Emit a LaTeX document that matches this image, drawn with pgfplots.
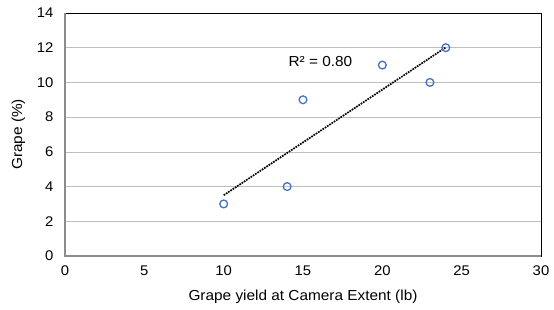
\documentclass[border=0pt]{standalone}
\usepackage{pgfplots}
\pgfplotsset{compat=1.18}
\usepackage{fontspec}
\setmainfont[FakeStretch=1.06]{Liberation Sans}
\definecolor{mblue}{HTML}{4472C4}
\definecolor{grid}{HTML}{E0E0E0}
\definecolor{axgray}{HTML}{8C8C8C}
\begin{document}
\begin{tikzpicture}
\path[use as bounding box] (0,0) rectangle (554pt,310pt);
\begin{axis}[
  anchor=south west, at={(65pt,54pt)},
  scale only axis, width=476pt, height=243pt,
  xmin=0, xmax=30, ymin=0, ymax=14,
  xtick={0,5,...,30}, ytick={0,2,...,14},
  major tick length=0pt,
  xmajorgrids=false, ymajorgrids=true,
  grid style={grid, line width=0.7pt},
  axis line style={black, line width=0.9pt},
  tick label style={font=\fontsize{14}{16}\selectfont},
  label style={font=\fontsize{14.5}{16}\selectfont},
  /pgf/number format/assume math mode=true,
  xticklabel style={yshift=-6pt},
  yticklabel style={xshift=-8pt},
  xlabel={Grape yield at Camera Extent (lb)},
  ylabel={Grape (\%)},
  xlabel style={yshift=-8pt},
  ylabel style={yshift=5pt},
  clip=false,
]
\addplot[black, densely dotted, line width=1.7pt] coordinates {(10,3.50) (24,12.02)};
\addplot[only marks, mark=o, mark size=3.9pt, mark options={mblue, line width=1.3pt}] coordinates {
(10,3) (14,4) (15,9) (20,11) (23,10) (24,12)};
\node[font=\fontsize{14.5}{16}\selectfont] at (axis cs:16.1,11.2) {R² = 0.80};
\draw[axgray, line width=1.6pt] (rel axis cs:0,1) -- (rel axis cs:0,0) -- (rel axis cs:1,0);
\end{axis}
\end{tikzpicture}
\end{document}
